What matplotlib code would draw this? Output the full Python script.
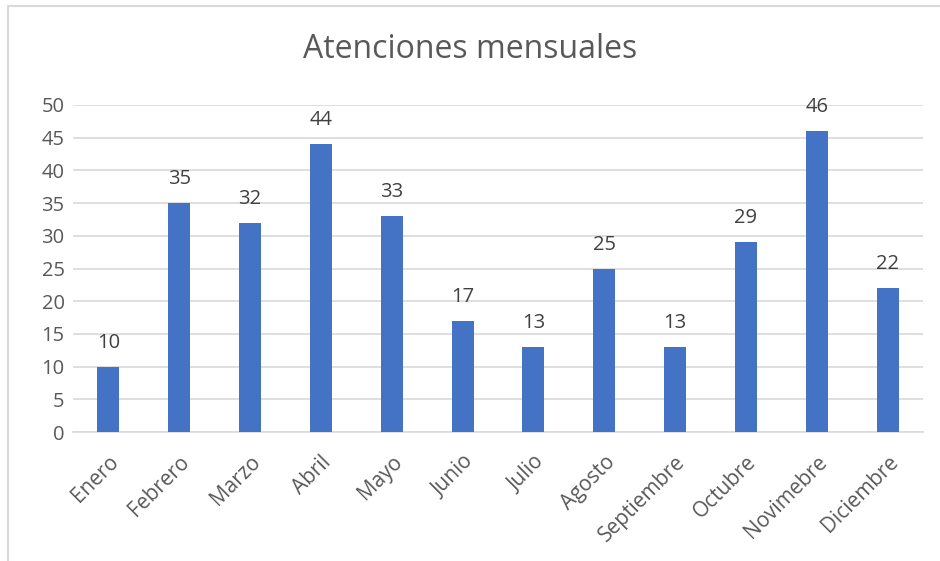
import matplotlib.pyplot as plt
from matplotlib.patches import Rectangle

meses = ['Enero', 'Febrero', 'Marzo', 'Abril', 'Mayo', 'Junio', 'Julio',
         'Agosto', 'Septiembre', 'Octubre', 'Novimebre', 'Diciembre']
atenciones = [10, 35, 32, 44, 33, 17, 13, 25, 13, 29, 46, 22]

plt.rcParams['font.family'] = ['Open Sans', 'DejaVu Sans']
gris = '#595959'

fig = plt.figure(figsize=(9.4, 5.61), dpi=100)
# marco del grafico (estilo Excel)
fig.patches.append(Rectangle((8 / 940, -0.05), 1.0, 1.05 - 6 / 561,
                             transform=fig.transFigure, fill=False,
                             edgecolor='#d9d9d9', linewidth=1.5))

ax = fig.add_axes([73 / 940, 129 / 561, 850 / 940, 327 / 561])
x = range(len(meses))
bars = ax.bar(x, atenciones, width=0.31, color='#4472c4', zorder=3)
ax.bar_label(bars, padding=10, fontsize=14.5, color='#404040')

ax.set_xlim(-0.5, len(meses) - 0.5)
ax.set_ylim(0, 50)
ax.set_yticks(range(0, 51, 5))
ax.grid(axis='y', color='#d9d9d9', linewidth=1.2, zorder=0)
for s in ['top', 'right', 'left']:
    ax.spines[s].set_visible(False)
ax.spines['bottom'].set_color('#d9d9d9')
ax.spines['bottom'].set_linewidth(1.2)
ax.tick_params(length=0, labelsize=14.5, labelcolor=gris, pad=6)
ax.set_xticks(list(x))
ax.set_xticklabels(meses, rotation=45, ha='right', rotation_mode='anchor')
ax.tick_params(axis='x', pad=14, labelsize=15)

fig.text(0.5, 1 - 50 / 561, 'Atenciones mensuales', ha='center', va='center',
         fontsize=23, color=gris)

fig.savefig('out.png', dpi=100)
